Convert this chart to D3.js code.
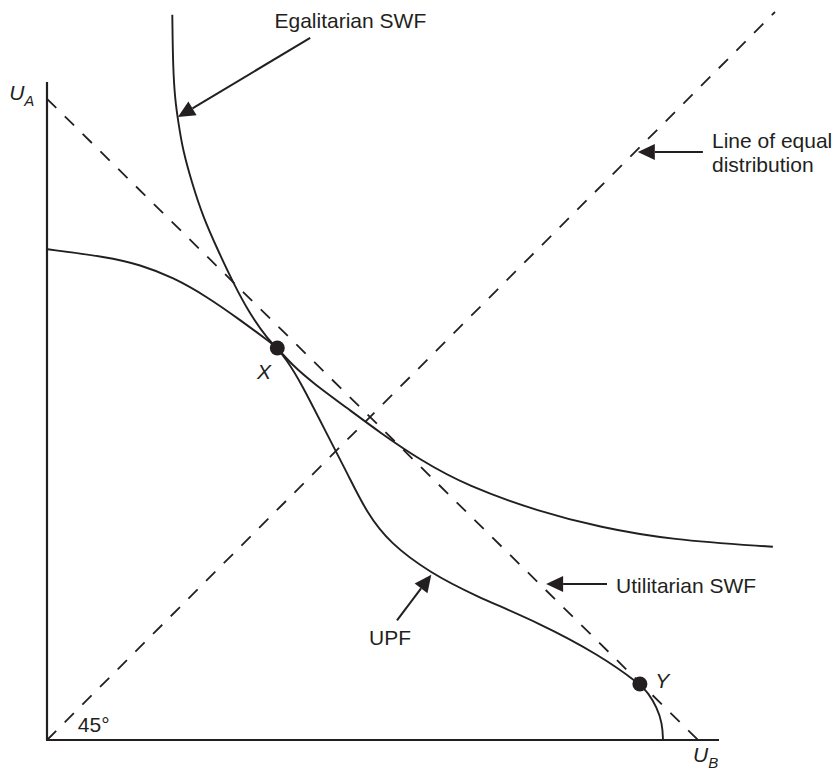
<!DOCTYPE html>
<html>
<head>
<meta charset="utf-8">
<script src="https://cdn.jsdelivr.net/npm/d3@7"></script>
<style>
  html, body { margin: 0; padding: 0; background: #fff; }
  svg text { font-family: "Liberation Sans", Arial, sans-serif; fill: #231f20; }
</style>
</head>
<body>
<svg id="chart" width="835" height="771"></svg>
<script>
// кривая возможных полезностей (UPF), [U_B, U_A]
const upf = [
  [0.1, 70.1], [8.6, 69.0], [13.3, 67.9], [18.0, 66.1], [22.9, 63.3],
  [27.6, 60.0], [31.9, 56.8], [32.9, 56.0], [34.2, 54.3], [36.1, 51.4],
  [40.4, 42.9], [42.9, 38.1], [45.7, 32.4], [49.0, 28.1], [54.7, 23.9],
  [60.9, 20.7], [70.4, 16.7], [79.0, 12.1], [84.7, 8.0], [85.9, 6.7],
  [87.1, 4.7], [87.9, 2.4], [88.0, 0]
];

// эгалитарная функция общественного благосостояния
const egalitarian = [
  [17.9, 103.6], [18.0, 96.0], [18.3, 91.4], [18.8, 88.0], [19.4, 84.3],
  [20.7, 79.6], [22.3, 74.7], [24.4, 70.0], [26.6, 65.3], [29.0, 60.8],
  [31.6, 57.2], [32.9, 56.0], [35.0, 53.6], [38.0, 51.0], [42.9, 47.4],
  [47.6, 43.9], [53.3, 40.0], [60.0, 36.3], [70.4, 32.6], [79.0, 30.4],
  [89.0, 28.6], [103.7, 27.6]
];

// прямые: утилитарная SWF и линия равного распределения
const utilitarian = [[0, 91.6], [93, 0]];
const equalLine = [[0, 0], [104, 104]];

// оси
const axisMax = { x: 96, y: 94 };

// точки X и Y
const points = [
  { name: 'X', p: [32.9, 56.0], label: [31.0, 51.6], anchor: 'middle' },
  { name: 'Y', p: [84.7, 8.0], label: [86.9, 7.4], anchor: 'start' }
];

// стрелки-указатели: [хвост, острие]
const arrows = [
  [[37.6, 100.3], [18.7, 89.0]],
  [[93.7, 84.0], [84.4, 84.0]],
  [[80.0, 22.3], [71.3, 22.3]],
  [[50.0, 17.1], [54.9, 23.6]]
];

// подписи
const labels = [
  { text: 'Egalitarian SWF', at: [32.5, 101.7] },
  { text: 'Line of equal', at: [95.0, 84.6] },
  { text: 'distribution', at: [95.0, 81.1] },
  { text: 'Utilitarian SWF', at: [81.3, 21.0] },
  { text: 'UPF', at: [46.0, 13.6] },
  { text: '45°', at: [4.4, 1.1] }
];

const ink = '#231f20';
const svg = d3.select('#chart');

const x = d3.scaleLinear().domain([0, 100]).range([47, 747]);
const y = d3.scaleLinear().domain([0, 100]).range([740, 40]);

const line = d3.line()
  .x(d => x(d[0]))
  .y(d => y(d[1]));

// сглаженная кривая
const curve = d3.line()
  .x(d => x(d[0]))
  .y(d => y(d[1]))
  .curve(d3.curveBasis);

// оси без делений
svg.append('line')
  .attr('x1', x(0)).attr('y1', y(0))
  .attr('x2', x(0)).attr('y2', y(axisMax.y))
  .attr('stroke', ink).attr('stroke-width', 2.2);
svg.append('line')
  .attr('x1', x(0) - 1).attr('y1', y(0))
  .attr('x2', x(axisMax.x)).attr('y2', y(0))
  .attr('stroke', ink).attr('stroke-width', 2.2);

// пунктирные прямые
[utilitarian, equalLine].forEach(d => {
  svg.append('path')
    .attr('d', line(d))
    .attr('fill', 'none')
    .attr('stroke', ink)
    .attr('stroke-width', 1.8)
    .attr('stroke-dasharray', '13 12');
});

// кривые
[upf, egalitarian].forEach(d => {
  svg.append('path')
    .attr('d', curve(d))
    .attr('fill', 'none')
    .attr('stroke', ink)
    .attr('stroke-width', 1.9);
});

// стрелки
function Arrow(g, from, to, len = 17, half = 8) {
  const x1 = x(from[0]), y1 = y(from[1]);
  const x2 = x(to[0]), y2 = y(to[1]);
  const a = Math.atan2(y2 - y1, x2 - x1);
  const bx = x2 - len * Math.cos(a), by = y2 - len * Math.sin(a);
  g.append('line')
    .attr('x1', x1).attr('y1', y1)
    .attr('x2', bx).attr('y2', by)
    .attr('stroke', ink).attr('stroke-width', 2);
  const nx = -Math.sin(a) * half, ny = Math.cos(a) * half;
  g.append('polygon')
    .attr('points', [[x2, y2], [bx + nx, by + ny], [bx - nx, by - ny]].join(' '))
    .attr('fill', ink);
}
const arrowG = svg.append('g');
arrows.forEach(d => Arrow(arrowG, d[0], d[1]));

// точки
svg.append('g')
  .selectAll('circle')
  .data(points)
  .enter()
  .append('circle')
  .attr('cx', d => x(d.p[0]))
  .attr('cy', d => y(d.p[1]))
  .attr('r', 7.5)
  .attr('fill', ink);

svg.append('g')
  .selectAll('text')
  .data(points)
  .enter()
  .append('text')
  .attr('x', d => x(d.label[0]))
  .attr('y', d => y(d.label[1]))
  .attr('text-anchor', d => d.anchor)
  .style('font-size', '21px')
  .style('font-style', 'italic')
  .text(d => d.name);

// подписи
svg.append('g')
  .selectAll('text')
  .data(labels)
  .enter()
  .append('text')
  .attr('x', d => x(d.at[0]))
  .attr('y', d => y(d.at[1]))
  .style('font-size', '21px')
  .text(d => d.text);

// подписи осей U_A, U_B
function AxisLabel(g, sub, px, py) {
  const t = g.append('text')
    .attr('x', px).attr('y', py)
    .style('font-size', '21px')
    .style('font-style', 'italic');
  t.append('tspan').text('U');
  t.append('tspan').attr('dy', 6).style('font-size', '15px').text(sub);
}
AxisLabel(svg, 'A', x(-5.4), y(91.4));
AxisLabel(svg, 'B', x(92.3), y(-3.2));
</script>
</body>
</html>
